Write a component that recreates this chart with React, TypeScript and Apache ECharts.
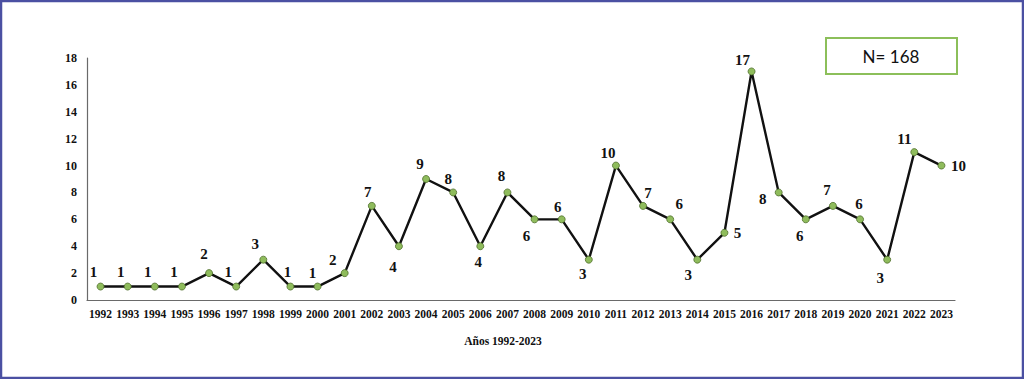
import React, { useEffect, useRef } from "react";
import * as echarts from "echarts";

const years = [
  "1992", "1993", "1994", "1995", "1996", "1997", "1998", "1999", "2000", "2001",
  "2002", "2003", "2004", "2005", "2006", "2007", "2008", "2009", "2010", "2011",
  "2012", "2013", "2014", "2015", "2016", "2017", "2018", "2019", "2020", "2021",
  "2022", "2023",
];
const counts = [
  1, 1, 1, 1, 2, 1, 3, 1, 1, 2,
  7, 4, 9, 8, 4, 8, 6, 6, 3, 10,
  7, 6, 3, 5, 17, 8, 6, 7, 6, 3,
  11, 10,
];
const yTicks = [0, 2, 4, 6, 8, 10, 12, 14, 16, 18];
const axisTitle = "Años 1992-2023";
const totalText = "N= 168";

// label offsets (styling) relative to each point centre
const labelOffsets: [number, number][] = [
  [-7, -15], [-7, -15], [-7, -15], [-8, -15], [-5, -19], [-8, -15], [-8, -16], [-3, -15], [-5, -14], [-12, -13],
  [-4, -14], [-6, 21], [-6, -15], [-5, -13], [-2, 16], [-6, -16], [-8, 17], [-4, -12], [-6, 14], [-8, -13],
  [5, -13], [9, -15], [-9, 15], [13, 0], [-9, -11], [-16, 7], [-6, 17], [-6, -16], [-1, -15], [-7, 18],
  [-10, -13], [17, 0],
];

export default function App() {
  const ref = useRef<HTMLDivElement>(null);
  useEffect(() => {
    if (!ref.current) return;
    const chart = echarts.init(ref.current, undefined, { renderer: "svg" });
    const serif = "'Liberation Serif', 'Times New Roman', serif";
    chart.setOption({
      animation: false,
      backgroundColor: "#ffffff",
      grid: { left: 87, right: 69, top: 58, bottom: 79 },
      xAxis: {
        type: "category",
        data: years,
        boundaryGap: true,
        axisLine: { show: true, lineStyle: { color: "#6a6a6a", width: 1.2 } },
        axisTick: { show: false },
        axisLabel: {
          margin: 8,
          color: "#111",
          fontFamily: serif,
          fontWeight: "bold",
          fontSize: 11.5,
          interval: 0,
        },
      },
      yAxis: {
        type: "value",
        min: yTicks[0],
        max: yTicks[yTicks.length - 1],
        interval: 2,
        axisLine: { show: true, lineStyle: { color: "#6a6a6a", width: 1.2 } },
        axisTick: { show: false },
        splitLine: { show: false },
        axisLabel: {
          margin: 10,
          color: "#111",
          fontFamily: serif,
          fontWeight: "bold",
          fontSize: 12,
        },
      },
      series: [
        {
          type: "line",
          data: counts.map((v, i) => ({
            value: v,
            label: { offset: labelOffsets[i] },
          })),
          lineStyle: { color: "#111", width: 2.4 },
          symbol: "circle",
          symbolSize: 7,
          itemStyle: { color: "#8fbc5c", borderColor: "#4f6e2c", borderWidth: 0.8 },
          label: {
            show: true,
            position: "inside",
            align: "center",
            verticalAlign: "middle",
            color: "#111",
            fontFamily: serif,
            fontWeight: "bold",
            fontSize: 15,
          },
          z: 3,
        },
      ],
      graphic: [
        {
          type: "rect",
          shape: { x: 1, y: 1, width: 1022, height: 377 },
          style: { fill: "none", stroke: "#4b50a2", lineWidth: 2.5 },
          silent: true,
          z: 10,
        },
        {
          type: "rect",
          shape: { x: 826, y: 38, width: 131, height: 36 },
          style: { fill: "#ffffff", stroke: "#8cbf5a", lineWidth: 2 },
          z: 5,
        },
        {
          type: "text",
          x: 891,
          y: 56,
          style: {
            text: totalText,
            fill: "#111",
            font: "17px Lato, 'Open Sans', sans-serif",
            align: "center",
            verticalAlign: "middle",
          },
          z: 6,
        },
        {
          type: "text",
          x: 503,
          y: 341,
          style: {
            text: axisTitle,
            fill: "#111",
            font: "bold 11.5px 'Liberation Serif', 'Times New Roman', serif",
            align: "center",
            verticalAlign: "middle",
          },
          z: 6,
        },
      ],
    });
    return () => chart.dispose();
  }, []);
  return (
    <div
      ref={ref}
      style={{ position: "fixed", left: 0, top: 0, width: 1024, height: 379 }}
    />
  );
}
